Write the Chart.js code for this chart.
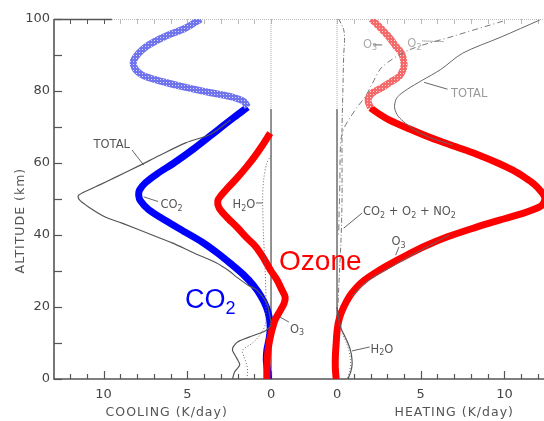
<!DOCTYPE html>
<html><head><meta charset="utf-8">
<script src="https://cdn.jsdelivr.net/npm/chart.js@4.4.1/dist/chart.umd.min.js"></script>
<style>html,body{margin:0;padding:0;background:#fff}canvas{display:block}</style>
</head><body>
<canvas id="c" width="544" height="421"></canvas>
<script>
// ---------- DATA (altitude km, rate K/day) ----------
// Left panel: cooling
const altCO2 = [75.5,72,68,64,60,57,54.5,52.5,51,49.5,47,44,41,38,35,32,29,26,23,20,17,14,11,8,5,2,0];
const coolCO2 = [1.4,2.4,3.5,4.6,5.8,6.8,7.5,7.85,7.9,7.8,7.3,6.3,5.2,4.1,3.2,2.4,1.65,1.05,0.6,0.28,0.1,0.05,0.12,0.25,0.28,0.2,0.15];
const altCO2Up = [100,97.5,95,92.5,90.5,88.5,87,85.5,84,82.5,81,79.5,78.3,77,75.5];
const coolCO2Up = [4.2,5.1,6.4,7.4,7.9,8.2,8.2,8.0,7.5,6.4,5.1,3.6,2.3,1.6,1.4];
const altO3Cool = [68.3,65,62,59,56,53,51,49.5,47.5,45,42,39,36.7,34,32,30,27.5,25,22.8,21,19,16.5,14,11.5,9,6,3,0];
const coolO3 = [0.05,0.5,0.95,1.45,2.0,2.6,2.98,3.18,3.1,2.65,2.0,1.4,0.9,0.5,0.25,0.0,-0.36,-0.62,-0.84,-0.78,-0.55,-0.25,-0.08,0.05,0.15,0.22,0.25,0.25];
const altTotCool = [72,68,65.6,62,59.4,56,54,52.5,51,49.8,47.8,45,43.3,40,37.8,35,32.2,30,28.3,26,24.7,21,17.2,15,13.5,12.5,11.7,10.3,9,8,7,5.8,3.9,2,0];
const coolTot = [2.4,3.6,5.1,6.7,7.8,9.3,10.2,10.9,11.5,11.45,10.9,9.9,8.9,7.1,5.9,4.6,3.25,2.5,2.05,1.35,0.84,0.25,0.06,0.0,0.3,0.8,1.27,2.0,2.25,2.3,2.2,2.05,1.87,2.17,2.3];
const altH2OCool = [62,60,55,50,40,30,20,15,12,10,8,6,4,2,0];
const coolH2O = [0.0,0.25,0.45,0.5,0.45,0.35,0.3,0.35,0.7,1.1,1.7,1.6,1.45,1.4,1.45];
// Right panel: heating
const altO3Heat = [75.3,73.5,72,69.5,67,64.5,62.5,60,58,56,54,52,50.5,49,47.8,46,44,42,39.5,37,34,31.5,29.4,27.5,25.6,23,20,17,14,10,6,3,0];
const heatO3 = [2.0,2.55,3.1,4.3,5.6,7.1,8.3,9.6,10.5,11.2,11.8,12.2,12.4,12.35,12.1,11.1,9.6,8.2,6.6,5.3,4.0,3.0,2.25,1.65,1.2,0.75,0.4,0.15,0.02,-0.05,-0.1,-0.1,-0.05];
const altO3HeatUp = [100,97.5,95,92.5,90.5,87.7,86,84,82.5,81,79.4,77.5,75.3];
const heatO3Up = [2.05,2.6,3.1,3.5,3.85,4.0,3.95,3.7,3.2,2.7,2.1,1.85,2.0];
const altTotHeat = [99.7,95,90.5,86,83,80.5,78.3,76.5,75,73,71,69,67,65];
const heatTot = [12.1,9.8,7.5,6.2,5.1,4.2,3.6,3.45,3.45,3.65,4.1,4.7,5.6,6.9];
const altO3HeatLow = [40,37,34,31,28.4,26,23];
const heatO3Low = [6.7,5.5,4.3,3.2,2.2,1.5,0.9];
const altO2Heat = [99.4,95.3,91.4,86.7,82,78.5,75.5,72,70,67,64,60,55,50,45,40];
const heatO2 = [9.9,7.0,4.3,2.7,2.1,1.7,1.2,0.7,0.45,0.25,0.2,0.18,0.17,0.15,0.12,0.1];
const altCON = [100,97,94,90,80,70,60,50,40,30,20];
const heatCON = [0.1,0.4,0.45,0.4,0.35,0.3,0.3,0.3,0.25,0.15,0.05];
const altH2OHeat = [20,17,14,12,10,8,6,4,2,0];
const heatH2O = [0.0,0.1,0.25,0.45,0.65,0.8,0.88,0.9,0.82,0.65];
const heatH2ODot = [0.0,0.08,0.2,0.38,0.56,0.7,0.78,0.8,0.74,0.6];
// Tick labels
const altTicks = [0,10,20,30,40,50,60,70,80,90,100];
const altLabels = [0,20,40,60,80,100];
const rateLabels = [0,5,10];
const minorTicks = [0,1,2,3,4,5,6,7,8,9,10,11,12];

// ---------- composite horizontal axis ----------
const GAP = 3.94;           // heating 0 sits GAP units right of cooling 0
const XMIN = -12.96, XMAX = 16.30;
const L = (alts, vals) => alts.map((a,i)=>({x:-vals[i], y:a}));
const R = (alts, vals) => alts.map((a,i)=>({x:GAP+vals[i], y:a}));

function hatch(base, light){
  const c=document.createElement('canvas'); c.width=c.height=3;
  const g=c.getContext('2d'); g.fillStyle=base; g.fillRect(0,0,3,3);
  g.fillStyle=light; g.fillRect(1,1,1,1);
  return g.createPattern(c,'repeat');
}
const ctx0 = document.getElementById('c').getContext('2d');
const blueHatch = hatch('rgb(112,116,236)','rgb(215,218,252)');
const redHatch = hatch('rgb(244,105,105)','rgb(255,215,215)');

const GREY='#555';
function ds(data, color, width, dash, tension){
  return {data, borderColor:color, borderWidth:width, borderDash:dash||[], showLine:true,
    pointRadius:0, tension:tension==null?0.3:tension, fill:false, borderJoinStyle:'round', borderCapStyle:'butt'};
}
const datasets = [
  ds(L(altH2OCool,coolH2O),'#666',1,[1,2]),
  ds(L(altTotCool,coolTot),GREY,1.2,[]),
  ds(R(altCON,heatCON),'#777',1,[5,2,1,2]),
  ds(R(altO2Heat,heatO2),'#777',1,[6,3,1,3]),
  ds(R(altTotHeat,heatTot),'#666',1,[]),
  ds(R(altO3HeatLow,heatO3Low),'#666',1,[]),
  ds(R(altH2OHeat,heatH2O),GREY,1.2,[]),
  ds(R(altH2OHeat,heatH2ODot),'#777',1,[1,2]),
  ds(L(altCO2Up,coolCO2Up),blueHatch,7,[]),
  ds(R(altO3HeatUp,heatO3Up),redHatch,7,[]),
  ds(L(altO3Cool,coolO3),'#ff0000',7,[]),
  ds(R(altO3Heat,heatO3),'#ff0000',7,[]),
  ds(L(altCO2,coolCO2),'#0000ff',7,[]),
];

function chem(ctx, x, y, str, size, family, color){
  ctx.fillStyle=color; ctx.textAlign='left'; ctx.textBaseline='alphabetic';
  const parts = str.split(/(_\d)/).filter(s=>s.length);
  for(const p of parts){
    if(p[0]==='_'){
      ctx.font = Math.round(size*0.68)+'px '+family;
      ctx.fillText(p[1], x, y+size*0.22); x += ctx.measureText(p[1]).width;
    } else {
      ctx.font = size+'px '+family;
      ctx.fillText(p, x, y); x += ctx.measureText(p).width;
    }
  }
}

const axesPlugin = {
  id:'axes',
  beforeDatasetsDraw(chart){
    const c=chart.ctx, xs=chart.scales.x, ys=chart.scales.y, a=chart.chartArea;
    const xL = v=>xs.getPixelForValue(-v), xR = v=>xs.getPixelForValue(GAP+v), Y=v=>ys.getPixelForValue(v);
    c.save();
    c.strokeStyle='#bbb'; c.lineWidth=1; c.setLineDash([1,1]);
    c.beginPath(); c.moveTo(a.left,a.top+0.5); c.lineTo(a.right,a.top+0.5); c.stroke();
    c.setLineDash([]); c.strokeStyle=GREY; c.lineWidth=1.5;
    c.beginPath(); c.moveTo(a.left,a.top+0.5); c.lineTo(xL(9.5),a.top+0.5); c.stroke();
    for(const t of minorTicks){
      for(const [px,dark] of [[xL(t), t>=10],[xR(t), false]]){
        if(px<a.left||px>a.right) continue;
        c.strokeStyle = dark?GREY:'#bbb'; c.lineWidth=1;
        c.beginPath(); c.moveTo(Math.round(px)+0.5,a.top); c.lineTo(Math.round(px)+0.5,a.top+5); c.stroke();
      }
    }
    for(const px of [xL(0), xR(0)]){
      c.strokeStyle='#aaa'; c.lineWidth=1; c.setLineDash([1,1]);
      c.beginPath(); c.moveTo(px,a.top); c.lineTo(px,Y(75)); c.stroke();
      c.setLineDash([]); c.strokeStyle='#777'; c.lineWidth=1.6;
      c.beginPath(); c.moveTo(px,Y(75)); c.lineTo(px,a.bottom); c.stroke();
    }
    c.strokeStyle=GREY; c.lineWidth=1.6;
    c.beginPath(); c.moveTo(a.left,a.top); c.lineTo(a.left,a.bottom); c.lineTo(a.right,a.bottom); c.stroke();
    c.lineWidth=1.2;
    for(const t of altTicks){
      const py=Math.round(Y(t))+0.5;
      c.beginPath(); c.moveTo(a.left,py); c.lineTo(a.left+8,py); c.stroke();
    }
    for(const t of minorTicks){
      const len = (t%5===0)?8:5;
      for(const px of [xL(t), xR(t)]){
        if(px<a.left||px>a.right) continue;
        const p=Math.round(px)+0.5;
        c.beginPath(); c.moveTo(p,a.bottom); c.lineTo(p,a.bottom-len); c.stroke();
      }
    }
    c.fillStyle='#444'; c.font='13px "DejaVu Sans"';
    c.textAlign='right'; c.textBaseline='middle';
    for(const t of altLabels) c.fillText(String(t), a.left-4, Y(t));
    c.textAlign='center'; c.textBaseline='middle';
    for(const t of rateLabels){ c.fillText(String(t), xL(t), a.bottom+16); c.fillText(String(t), xR(t), a.bottom+16); }
    c.font='12.5px "DejaVu Sans"'; c.fillStyle='#555';
    if('letterSpacing' in c) c.letterSpacing='1px';
    c.fillText('COOLING (K/day)', (xL(12.9)+xL(-0.2))/2+2, a.bottom+34);
    c.fillText('HEATING (K/day)', xR(7), a.bottom+34);
    c.save(); c.translate(21, Y(44)); c.rotate(-Math.PI/2);
    c.fillText('ALTITUDE (km)', 0, 0); c.restore();
    if('letterSpacing' in c) c.letterSpacing='0px';
    c.restore();
  },
  afterDatasetsDraw(chart){
    const c=chart.ctx, xs=chart.scales.x, ys=chart.scales.y;
    const xL = v=>xs.getPixelForValue(-v), xR = v=>xs.getPixelForValue(GAP+v), Y=v=>ys.getPixelForValue(v);
    c.save();
    const F='"DejaVu Sans"', col='#555';
    function lead(x1,y1,x2,y2,dash){ c.strokeStyle=col; c.lineWidth=0.9; c.setLineDash(dash||[]);
      c.beginPath(); c.moveTo(x1,y1); c.lineTo(x2,y2); c.stroke(); c.setLineDash([]); }
    chem(c, xL(10.6), Y(64.2), 'TOTAL', 11.5, F, col);
    lead(xL(8.3),Y(63.6),xL(7.6),Y(59.4));
    chem(c, xL(6.6), Y(47.4), 'CO_2', 11.5, F, col);
    lead(xL(7.6),Y(50.6),xL(6.75),Y(49.3));
    chem(c, xL(2.3), Y(47.4), 'H_2O', 11.5, F, col);
    lead(xL(0.9),Y(48.9),xL(0.5),Y(48.9));
    chem(c, xL(-1.13), Y(12.9), 'O_3', 11.5, F, col);
    lead(xL(-0.54),Y(17.2),xL(-1.07),Y(15.8));
    chem(c, xR(1.55), Y(92), 'O_3', 11.5, F, '#aaa');
    lead(xR(2.15),Y(92.8),xR(2.7),Y(92.8));
    chem(c, xR(4.2), Y(92.2), 'O_2', 11.5, F, '#aaa');
    lead(xR(5.1),Y(93.9),xR(6.4),Y(93.7),[1,1]);
    chem(c, xR(6.8), Y(78.3), 'TOTAL', 11.5, F, '#999');
    lead(xR(6.6),Y(80.5),xR(5.2),Y(82.4));
    chem(c, xR(1.55), Y(45.5), 'CO_2 + O_2 + NO_2', 11.5, F, col);
    lead(xR(1.5),Y(46.1),xR(0.4),Y(41.9));
    chem(c, xR(3.25), Y(37.2), 'O_3', 11.5, F, col);
    lead(xR(3.7),Y(36.7),xR(3.5),Y(34.4));
    chem(c, xR(2.0), Y(7.3), 'H_2O', 11.5, F, col);
    lead(xR(1.95),Y(8.9),xR(0.9),Y(7.8));
    chem(c, xL(5.13), Y(19.7), 'CO_2', 27, '"Liberation Sans"', '#0000ff');
    chem(c, xL(-0.48), Y(30.2), 'Ozone', 28, '"Liberation Sans"', '#ff0000');
    c.restore();
  }
};

new Chart(ctx0, {
  type:'scatter',
  data:{datasets},
  options:{
    responsive:false, animation:false, devicePixelRatio:1,
    layout:{padding:{left:54,right:0,top:19,bottom:42}},
    plugins:{legend:{display:false}, tooltip:{enabled:false}},
    scales:{
      x:{type:'linear', min:XMIN, max:XMAX, display:false},
      y:{type:'linear', min:0, max:100, display:false}
    }
  },
  plugins:[axesPlugin]
});
</script>
</body></html>
